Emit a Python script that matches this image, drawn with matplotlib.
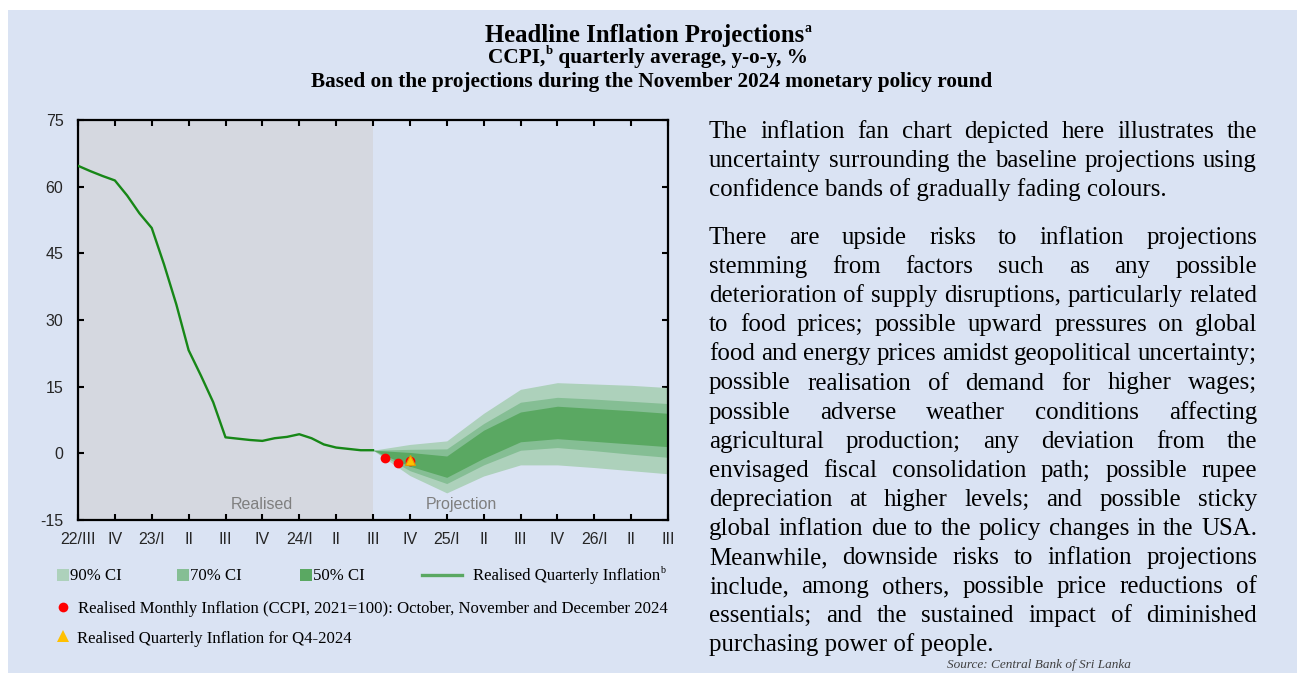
import matplotlib
matplotlib.use("Agg")
import matplotlib.pyplot as plt
from matplotlib.patches import Rectangle
import numpy as np

# ---------------- data ----------------
quarter_labels = ['22/III', 'IV', '23/I', 'II', 'III', 'IV', '24/I', 'II', 'III',
                  'IV', '25/I', 'II', 'III', 'IV', '26/I', 'II', 'III']
y_ticks = [-15, 0, 15, 30, 45, 60, 75]

# realised quarterly inflation (read at monthly steps from 22/III to 24/III)
realised = [64.7, 63.5, 62.4, 61.4, 58.0, 54.0, 50.7, 42.5, 33.5, 23.2, 17.5, 11.5,
            3.6, 3.3, 3.0, 2.8, 3.4, 3.7, 4.3, 3.4, 2.0, 1.3, 1.0, 0.7, 0.7]

# fan chart, quarterly from 24/III to 26/III
ci90_upper = [0.7, 2.0, 2.8, 9.0, 14.4, 15.9, 15.6, 15.3, 14.8]
ci70_upper = [0.7, 0.9, 1.0, 6.7, 11.5, 12.6, 12.2, 11.7, 11.2]
ci50_upper = [0.7, 0.2, -0.6, 5.2, 9.3, 10.6, 10.1, 9.6, 9.0]
ci50_lower = [0.7, -2.9, -5.4, -1.1, 2.6, 3.3, 2.7, 2.1, 1.5]
ci70_lower = [0.7, -3.9, -6.8, -2.6, 0.7, 1.3, 0.6, -0.2, -0.9]
ci90_lower = [0.7, -5.0, -8.9, -5.1, -2.6, -2.6, -3.2, -3.9, -4.6]

# realised monthly inflation Oct, Nov, Dec 2024 and quarterly Q4-2024
monthly_2024q4 = [-1.0, -2.2, -1.7]
quarterly_2024q4 = -1.6

# ---------------- styling ----------------
W, H, DPI = 1297, 673, 100
BG = '#DAE3F3'
SHADE = '#D5D8E0'
C90 = '#ADD1BB'
C70 = '#85BE94'
C50 = '#5AA862'
CLINE = '#178717'
SERIF = 'Liberation Serif'
SANS = 'Liberation Sans'

fig = plt.figure(figsize=(W / DPI, H / DPI), dpi=DPI, facecolor=BG)
fig.patches.append(Rectangle((0, 1 - 10 / H), 1, 10 / H, transform=fig.transFigure,
                             color='white', zorder=-5, lw=0))
fig.patches.append(Rectangle((0, 0), 8 / W, 1, transform=fig.transFigure,
                             color='white', zorder=-5, lw=0))

# ---------------- main axes ----------------
ax = fig.add_axes([78 / W, (H - 520) / H, 590 / W, 400 / H])
ax.set_facecolor(BG)
ax.set_xlim(0, 16)
ax.set_ylim(-15, 75)
ax.axvspan(0, 8, color=SHADE, lw=0, zorder=0)

xr = np.arange(len(realised)) / 3.0
ax.plot(xr, realised, color=CLINE, lw=1.7, zorder=3, solid_joinstyle='round')

xf = np.arange(8, 8 + len(ci90_upper))
ax.fill_between(xf, ci90_lower, ci90_upper, color=C90, lw=0, zorder=2)
ax.fill_between(xf, ci70_lower, ci70_upper, color=C70, lw=0, zorder=2)
ax.fill_between(xf, ci50_lower, ci50_upper, color=C50, lw=0, zorder=2)

xm = 8 + np.arange(1, 4) / 3.0
ax.plot(xm, monthly_2024q4, 'o', color='#FF0000', ms=6, mec='#FF0000', zorder=4, clip_on=False)
ax.plot([9], [quarterly_2024q4], '^', color='#FFC000', ms=7.5, mec='#E59A00', mew=0.8, zorder=5)

ax.text(5, -11.6, 'Realised', ha='center', va='center', fontsize=11.5,
        family=SANS, color='#7F7F7F')
ax.text(10.4, -11.6, 'Projection', ha='center', va='center', fontsize=11.5,
        family=SANS, color='#7F7F7F')

ax.set_xticks(range(len(quarter_labels)))
ax.set_xticklabels(quarter_labels, family=SANS)
ax.set_yticks(y_ticks)
ax.set_yticklabels([str(v) for v in y_ticks], family=SANS)
ax.tick_params(axis='both', direction='in', length=4, width=1.5, top=True, right=True,
               labelsize=11.5, labelcolor='#262626', color='black')
ax.tick_params(axis='x', pad=9.0)
ax.tick_params(axis='y', pad=10.5)
for sp in ax.spines.values():
    sp.set_linewidth(1.6)
    sp.set_color('black')

# ---------------- overlay in pixel coordinates ----------------
ov = fig.add_axes([0, 0, 1, 1])
ov.set_xlim(0, W)
ov.set_ylim(H, 0)
ov.axis('off')
ov.patch.set_alpha(0)

renderer = fig.canvas.get_renderer()


def measure(s, size, **kw):
    t = ov.text(0, 0, s, fontsize=size, **kw)
    w = t.get_window_extent(renderer).width
    t.remove()
    return w


def fit(s, target, **kw):
    return 10.0 * target / measure(s, 10.0, **kw)


def runs_centered(runs, xc, yb):
    widths = [measure(r[0], r[1], **r[3]) for r in runs]
    x = xc - sum(widths) / 2.0
    for (s, size, rp, kw), w in zip(runs, widths):
        ov.text(x, yb - rp, s, fontsize=size, ha='left', va='baseline', **kw)
        x += w


def runs_left(runs, x, yb):
    for s, size, rp, kw in runs:
        ov.text(x, yb - rp, s, fontsize=size, ha='left', va='baseline', **kw)
        x += measure(s, size, **kw)


bold = dict(family=SERIF, weight='bold', color='black')
fsT = fit('Headline Inflation Projections', 319, **bold)
fsS = fit('Based on the projections during the November 2024 monetary policy round', 685, **bold)
runs_centered([('Headline Inflation Projections', fsT, 0, bold),
               ('a', fsT * 0.55, fsT * 0.55, bold)], 648, 42)
runs_centered([('CCPI,', fsS, 0, bold), ('b', fsS * 0.6, fsS * 0.6, bold),
               (' quarterly average, y-o-y, %', fsS, 0, bold)], 648, 63)
ov.text(652, 87, 'Based on the projections during the November 2024 monetary policy round',
        fontsize=fsS, ha='center', va='baseline', **bold)

# ---------------- legend ----------------
reg = dict(family=SERIF, color='black')
fsL = fit('Realised Monthly Inflation (CCPI, 2021=100): October, November and December 2024', 590, **reg)
row1 = 580
for xs, c, lab, xt in [(62.5, C90, '90% CI', 70), (182.5, C70, '70% CI', 190),
                       (306, C50, '50% CI', 313)]:
    ov.plot([xs], [row1 - 5], 's', color=c, ms=8.5, mew=0)
    ov.text(xt, row1, lab, fontsize=fsL, ha='left', va='baseline', **reg)
ov.plot([422, 462], [row1 - 5, row1 - 5], color=C50, lw=2.4)
runs_left([('Realised Quarterly Inflation', fsL, 0, reg), ('b', fsL * 0.6, fsL * 0.55, reg)], 473, row1)

row2 = 613
ov.plot([63], [row2 - 6], 'o', color='#FF0000', ms=7, mew=0)
ov.text(78, row2, 'Realised Monthly Inflation (CCPI, 2021=100): October, November and December 2024',
        fontsize=fsL, ha='left', va='baseline', **reg)
row3 = 643
ov.plot([63], [row3 - 7], '^', color='#FFC000', ms=8, mew=0)
ov.text(77, row3, 'Realised Quarterly Inflation for Q4-2024', fontsize=fsL, ha='left',
        va='baseline', **reg)

# ---------------- justified paragraph text ----------------
para1 = ["The inflation fan chart depicted here illustrates the",
         "uncertainty surrounding the baseline projections using",
         "confidence bands of gradually fading colours."]
para2 = ["There are upside risks to inflation projections",
         "stemming from factors such as any possible",
         "deterioration of supply disruptions, particularly related",
         "to food prices; possible upward pressures on global",
         "food and energy prices amidst geopolitical uncertainty;",
         "possible realisation of demand for higher wages;",
         "possible adverse weather conditions affecting",
         "agricultural production; any deviation from the",
         "envisaged fiscal consolidation path; possible rupee",
         "depreciation at higher levels; and possible sticky",
         "global inflation due to the policy changes in the USA.",
         "Meanwhile, downside risks to inflation projections",
         "include, among others, possible price reductions of",
         "essentials; and the sustained impact of diminished",
         "purchasing power of people."]

XL, XR = 709, 1257
fsP = fit("food and energy prices amidst geopolitical uncertainty;", XR - XL, **reg)


def draw_para(lines, y0, step):
    for i, line in enumerate(lines):
        yb = y0 + i * step
        if i == len(lines) - 1:
            ov.text(XL, yb, line, fontsize=fsP, ha='left', va='baseline', **reg)
            continue
        words = line.split()
        ws = [measure(w_, fsP, **reg) for w_ in words]
        gap = (XR - XL - sum(ws)) / (len(words) - 1)
        x = XL
        for w_, wd in zip(words, ws):
            ov.text(x, yb, w_, fontsize=fsP, ha='left', va='baseline', **reg)
            x += wd + gap


draw_para(para1, 138, 29.1)
draw_para(para2, 244, 29.1)

ov.text(947, 671, 'Source: Central Bank of Sri Lanka', fontsize=9.5, ha='left',
        va='bottom', family=SERIF, style='italic', color='#404040')

fig.savefig('out.png', dpi=DPI, facecolor=fig.get_facecolor())
